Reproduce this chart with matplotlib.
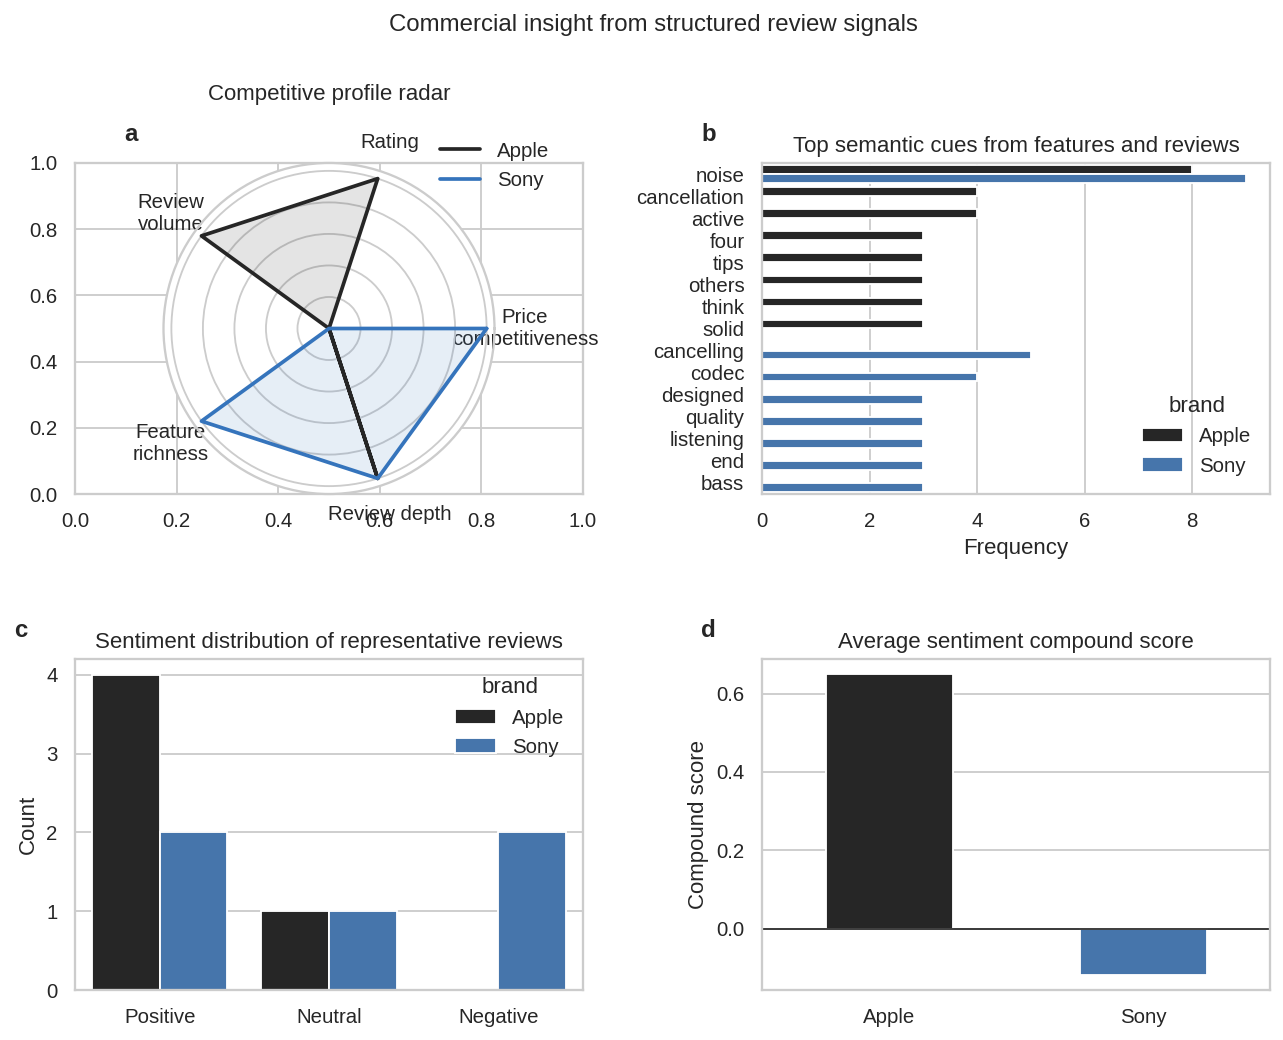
import numpy as np
import pandas as pd
import matplotlib
matplotlib.use("Agg")
import matplotlib.pyplot as plt
import seaborn as sns

# ---------------- data ----------------
brands = ["Apple", "Sony"]
brand_colors = ["#262626", "#3574BC"]

radar_axes = ["Price\ncompetitiveness", "Rating", "Review\nvolume", "Feature\nrichness", "Review depth"]
radar_apple = [0.0, 1.0, 1.0, 0.0, 1.0]
radar_sony = [1.0, 0.0, 0.0, 1.0, 1.0]

apple_terms = ["noise", "cancellation", "active", "four", "tips", "others", "think", "solid"]
apple_term_counts = [8, 4, 4, 3, 3, 3, 3, 3]
sony_terms = ["noise", "cancelling", "codec", "designed", "quality", "listening", "end", "bass"]
sony_term_counts = [9, 5, 4, 3, 3, 3, 3, 3]

sentiments = ["Positive", "Neutral", "Negative"]
apple_sent_counts = [4, 1, 0]
sony_sent_counts = [2, 1, 2]

compound_scores = [0.65, -0.118]

# ---------------- style ----------------
sns.set_theme(style="whitegrid", context="notebook")
plt.rcParams["font.family"] = ["Liberation Sans", "DejaVu Sans"]

palette = dict(zip(brands, brand_colors))

DPI = 133.33
W, H = 1283, 1040
fig = plt.figure(figsize=(W / DPI, H / DPI), dpi=DPI)


def rect(l, t, r, b):
    return [l / W, 1 - b / H, (r - l) / W, (b - t) / H]


ax_a = fig.add_axes(rect(75, 163, 583, 494))
ax_b = fig.add_axes(rect(762, 163, 1270, 494))
ax_c = fig.add_axes(rect(75, 659, 583, 990))
ax_d = fig.add_axes(rect(762, 659, 1270, 990))
ax_p = fig.add_axes(rect(75, 163, 583, 494), polar=True)

# ---------------- a: radar ----------------
angles = np.linspace(0, 2 * np.pi, len(radar_axes), endpoint=False)
closed = np.concatenate([angles, angles[:1]])
for vals, name, col in [(radar_apple, "Apple", brand_colors[0]),
                        (radar_sony, "Sony", brand_colors[1])]:
    v = np.concatenate([vals, vals[:1]])
    ax_p.plot(closed, v, color=col, lw=2, label=name)
    ax_p.fill(closed, v, color=col, alpha=0.12)
ax_p.set_xticks(angles)
ax_p.set_xticklabels(radar_axes)
ax_p.set_ylim(0, 1.05)
ax_p.set_yticks([0.2, 0.4, 0.6, 0.8, 1.0])
ax_p.set_yticklabels([])
ax_p.xaxis.grid(False)
ax_p.set_title("Competitive profile radar", y=1.19, pad=0)
ax_p.legend(loc="upper right", bbox_to_anchor=(1.22, 1.12), frameon=False)
ax_p.text(-0.12, 1.05, "a", transform=ax_p.transAxes, fontsize=13,
          fontweight="bold", va="bottom", ha="left")

# ---------------- b: terms ----------------
terms_df = pd.DataFrame({
    "term": apple_terms + sony_terms,
    "count": apple_term_counts + sony_term_counts,
    "brand": ["Apple"] * len(apple_terms) + ["Sony"] * len(sony_terms),
})
sns.barplot(data=terms_df, y="term", x="count", hue="brand", hue_order=brands,
            palette=palette, ax=ax_b)
ax_b.set_ylabel("")
ax_b.set_xlabel("Frequency")
ax_b.set_title("Top semantic cues from features and reviews")
ax_b.legend(title="brand", loc="lower right", frameon=False)
ax_b.text(-0.12, 1.05, "b", transform=ax_b.transAxes, fontsize=13,
          fontweight="bold", va="bottom", ha="left")

# ---------------- c: sentiment distribution ----------------
sent_df = pd.DataFrame({
    "sentiment": sentiments * 2,
    "count": apple_sent_counts + sony_sent_counts,
    "brand": ["Apple"] * 3 + ["Sony"] * 3,
})
sns.barplot(data=sent_df, x="sentiment", y="count", hue="brand", hue_order=brands,
            order=sentiments, palette=palette, ax=ax_c)
ax_c.set_xlabel("")
ax_c.set_ylabel("Count")
ax_c.set_title("Sentiment distribution of representative reviews")
ax_c.legend(title="brand", loc="upper right", frameon=False)
ax_c.text(-0.12, 1.05, "c", transform=ax_c.transAxes, fontsize=13,
          fontweight="bold", va="bottom", ha="left")

# ---------------- d: compound score ----------------
comp_df = pd.DataFrame({"brand": brands, "score": compound_scores})
sns.barplot(data=comp_df, x="brand", y="score", hue="brand", hue_order=brands,
            palette=palette, width=0.5, legend=False, ax=ax_d)
ax_d.axhline(0, color="#333333", lw=1)
ax_d.set_xlabel("")
ax_d.set_ylabel("Compound score")
ax_d.set_title("Average sentiment compound score")
ax_d.text(-0.12, 1.05, "d", transform=ax_d.transAxes, fontsize=13,
          fontweight="bold", va="bottom", ha="left")

fig.suptitle("Commercial insight from structured review signals", fontsize=13,
             x=653.5 / W, y=1 - 31 / H, va="baseline")

fig.savefig("out.png", dpi=DPI)
